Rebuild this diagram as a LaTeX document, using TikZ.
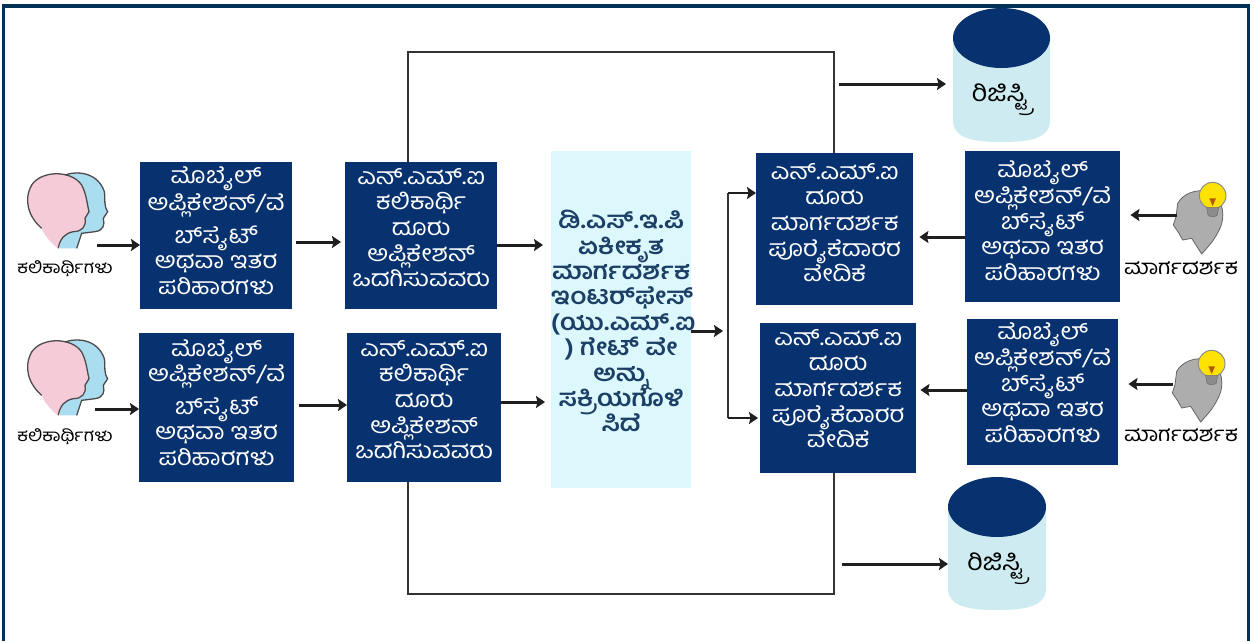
\documentclass[tikz,border=0pt]{standalone}
\usepackage{fontspec}
\usetikzlibrary{arrows.meta,calc}
\newfontfamily\knfont[Script=Kannada,FakeStretch=1.12]{Hind Mysuru}
\definecolor{navy}{HTML}{08326F}
\definecolor{framec}{HTML}{003355}
\definecolor{paleb}{HTML}{DDF8FC}
\definecolor{centert}{HTML}{1C3F66}
\definecolor{cylb}{HTML}{CDEBF1}
\definecolor{linec}{HTML}{333333}
\definecolor{pinkh}{HTML}{F6CBD8}
\definecolor{blueh}{HTML}{ABDDF1}
\tikzset{
  bluebx/.style={rectangle,fill=navy,draw=none,inner sep=0pt,text=white},
  palebx/.style={rectangle,fill=paleb,draw=none,inner sep=0pt,text=centert},
  conn/.style={draw=linec,line width=1.8pt},
  arr/.style={draw=black!88,line width=3pt,-{Stealth[length=9pt,width=12pt,inset=1.5pt]}},
  lab/.style={inner sep=0pt,text=black,font=\knfont\fontsize{17}{20}\selectfont},
  labm/.style={inner sep=0pt,text=black,font=\knfont\fontsize{20.5}{20}\selectfont},
  cyltext/.style={inner sep=0pt,text=black,font=\knfont\fontsize{24}{24}\selectfont},
  headout/.style={draw=black!70,line width=1.3pt},
}
% name, x0, y0, width, height, top skip, lines
\newcommand{\navybox}[7]{%
  \node[bluebx,anchor=north west] (#1) at (#2,#3) {\parbox[c][#5pt][t]{#4pt}{\centering\lineskiplimit=-100pt\vspace*{#6pt}\knfont\fontsize{23}{25.6}\selectfont #7}};}
\newcommand{\learnerhead}[2]{%
  \begin{scope}[shift={(#1,#2)},x=0.3333pt,y=-0.3333pt]
    \fill[blueh] (150,45) .. controls (190,30) and (250,40) .. (268,95) .. controls (272,120) and (265,135) .. (278,155) -- (265,175) .. controls (270,195) and (265,212) .. (240,215) -- (200,220) -- (185,265) -- (135,265) -- cycle;
    \fill[pinkh] (80,205) .. controls (40,170) and (25,120) .. (50,75) .. controls (80,30) and (170,30) .. (200,75) .. controls (215,105) and (215,125) .. (222,155) -- (210,175) .. controls (215,200) and (200,215) .. (175,215) .. controls (150,220) and (135,235) .. (128,265) .. controls (110,250) and (90,230) .. (80,205) -- cycle;
    \draw[headout] (130,265) .. controls (135,235) and (150,220) .. (175,215) .. controls (200,215) and (215,200) .. (210,175) -- (222,155) .. controls (215,125) and (215,105) .. (200,75) .. controls (170,30) and (80,30) .. (50,75) .. controls (25,120) and (40,170) .. (80,205);
    \draw[headout] (150,45) .. controls (190,30) and (250,40) .. (268,95) .. controls (272,120) and (265,135) .. (278,155) -- (265,175) .. controls (270,195) and (265,212) .. (240,215) -- (200,220) -- (185,265);
  \end{scope}}
\newcommand{\mentorhead}[2]{%
  \begin{scope}[shift={(#1,#2)},x=0.3333pt,y=-0.3333pt]
    \fill[fill=black!32,draw=black!60,line width=0.8pt] (203,100) .. controls (220,70) and (260,55) .. (300,65) .. controls (340,90) and (350,140) .. (325,185) .. controls (310,215) and (290,235) .. (275,252) -- (245,205) -- (218,210) -- (207,190) -- (190,165) -- (198,140) -- cycle;
    \fill[yellow!85!orange,draw=black!45,line width=1pt] (308,77) circle[radius=40];
    \fill[black!45,draw=black!55,line width=0.6pt] (290,112) -- (326,112) -- (322,135) .. controls (315,142) and (300,142) .. (294,135) -- cycle;
    \fill[orange!70!black] (298,85) -- (318,85) -- (308,108) -- cycle;
  \end{scope}}
\newcommand{\cylinder}[7]{%
  % name, x0, x1, top, ellipse bottom, bottom, label
  \fill[cylb] (#2,{(#4+#5)/2}) -- (#2,{#6-22}) .. controls (#2,{#6-4}) and ({(#2+#3)/2-30},#6) .. ({(#2+#3)/2},#6) .. controls ({(#2+#3)/2+30},#6) and (#3,{#6-4}) .. (#3,{#6-22}) -- (#3,{(#4+#5)/2}) -- cycle;
  \fill[navy] ({(#2+#3)/2},{(#4+#5)/2}) ellipse[x radius={(#3-#2)/2},y radius={(#5-#4)/2}];
  \node[cyltext] (#1) at ({(#2+#3)/2},{(#5+#6)/2-5}) {#7};}
\begin{document}
\begin{tikzpicture}[x=1pt,y=-1pt]
\useasboundingbox (0,0) rectangle (1255,641);
\fill[white] (0,0) rectangle (1255,641);
\draw[framec,line width=3.2pt] (3.5,641) -- (3.5,6) -- (1248.5,6) -- (1248.5,641);
\coordinate (topL) at (408,52);
\coordinate (topR) at (834,52);
\coordinate (botL) at (408,594);
\coordinate (botR) at (834,594);
% boxes
\navybox{a1}{140}{162}{152}{147}{5}{ಮೊಬೈಲ್\\[1pt]ಅಪ್ಲಿಕೇಶನ್/ವೆ\\[7pt]ಬ್‌ಸೈಟ್\\ಅಥವಾ ಇತರ\\ಪರಿಹಾರಗಳು}
\navybox{a2}{139}{333}{155}{149}{6}{ಮೊಬೈಲ್\\ಅಪ್ಲಿಕೇಶನ್/ವೆ\\[7pt]ಬ್‌ಸೈಟ್\\ಅಥವಾ ಇತರ\\ಪರಿಹಾರಗಳು}
\navybox{b1}{345}{162}{152}{147}{6}{ಎನ್.ಎಮ್.ಐ\\ಕಲಿಕಾರ್ಥಿ\\ದೂರು\\ಅಪ್ಲಿಕೇಶನ್\\ಒದಗಿಸುವವರು}
\navybox{b2}{347}{333}{154}{149}{7}{ಎನ್.ಎಮ್.ಐ\\ಕಲಿಕಾರ್ಥಿ\\ದೂರು\\ಅಪ್ಲಿಕೇಶನ್\\ಒದಗಿಸುವವರು}
\node[palebx,anchor=north west] (hub) at (551,151) {\parbox[c][337pt][t]{140pt}{\centering\lineskiplimit=-100pt\vspace*{59pt}\knfont\bfseries\fontsize{23.5}{25.4}\selectfont ಡಿ.ಎಸ್.ಇ.ಪಿ\\ಏಕೀಕೃತ\\ಮಾರ್ಗದರ್ಶಕ\\ಇಂಟರ್‌ಫೇಸ್\\(ಯು.ಎಮ್.ಐ\\) ಗೇಟ್ ವೇ\\ಅನ್ನು\\ಸಕ್ರಿಯಗೊಳಿ\\ಸಿದೆ}};
\navybox{c1}{756}{153}{157}{152}{10}{ಎನ್.ಎಮ್.ಐ\\ದೂರು\\ಮಾರ್ಗದರ್ಶಕ\\ಪೂರೈಕೆದಾರರ\\ವೇದಿಕೆ}
\navybox{c2}{760}{323}{156}{150}{6}{ಎನ್.ಎಮ್.ಐ\\ದೂರು\\ಮಾರ್ಗದರ್ಶಕ\\ಪೂರೈಕೆದಾರರ\\ವೇದಿಕೆ}
\navybox{d1}{965}{151}{155}{151}{10}{ಮೊಬೈಲ್\\ಅಪ್ಲಿಕೇಶನ್/ವೆ\\ಬ್‌ಸೈಟ್\\ಅಥವಾ ಇತರ\\ಪರಿಹಾರಗಳು}
\navybox{d2}{967}{319}{151}{146}{4}{ಮೊಬೈಲ್\\ಅಪ್ಲಿಕೇಶನ್/ವೆ\\ಬ್‌ಸೈಟ್\\ಅಥವಾ ಇತರ\\ಪರಿಹಾರಗಳು}
% cylinders
\cylinder{reg1}{953}{1050}{8}{68}{142}{ರಿಜಿಸ್ಟ್ರಿ}
\cylinder{reg2}{948}{1046}{477}{537}{610}{ರಿಜಿಸ್ಟ್ರಿ}
% icons
\learnerhead{15}{160}
\learnerhead{15}{327}
\mentorhead{1110}{170}
\mentorhead{1109}{338}
\node[lab] (learn1) at (65,269) {ಕಲಿಕಾರ್ಥಿಗಳು};
\node[lab] (learn2) at (65,437) {ಕಲಿಕಾರ್ಥಿಗಳು};
\node[labm] (ment1) at (1181,268) {ಮಾರ್ಗದರ್ಶಕ};
\node[labm] (ment2) at (1181,435) {ಮಾರ್ಗದರ್ಶಕ};
% loops
\draw[conn] (b1.north -| topL) -- (topL) -- (topR) -- (c1.north -| topR);
\draw[conn] (b2.south -| botL) -- (botL) -- (botR) -- (c2.south -| botR);
% free ends
\coordinate (p1) at (97,245);
\coordinate (p2) at (95,409);
\coordinate (m1) at (1177,215);
\coordinate (m2) at (1173,384);
\coordinate (ab1) at (296,242);
\coordinate (ab2) at (299,405);
\coordinate (r1) at (839,84);
\coordinate (r1e) at (946,84);
\coordinate (r2) at (842,564);
\coordinate (r2e) at (948,564);
\coordinate (busT) at (728,193);
\coordinate (busM) at (728,331);
\coordinate (busB) at (728,418);
\coordinate (bh1) at (497,245);
\coordinate (bh2) at (501,402);
\coordinate (dc1) at (965,237);
\coordinate (dc2) at (967,390);
% arrows
\draw[arr] (p1) -- (a1.west |- p1);
\draw[arr] (p2) -- (a2.west |- p2);
\draw[arr,shorten >=4pt] (ab1) -- (b1.west |- ab1);
\draw[arr] (ab2) -- (b2.west |- ab2);
\draw[arr,shorten >=8pt] (bh1) -- (hub.west |- bh1);
\draw[arr,shorten >=6pt] (bh2) -- (hub.west |- bh2);
\draw[arr,shorten >=5pt] (hub.east |- busM) -- (busM);
\draw[conn] (busT) -- (busB);
\draw[arr,line width=2.4pt] (busT) -- (c1.west |- busT);
\draw[arr,line width=2.4pt,shorten >=2pt] (busB) -- (c2.west |- busB);
\draw[arr,shorten >=6pt] (dc1) -- (c1.east |- dc1);
\draw[arr,shorten >=4pt] (dc2) -- (c2.east |- dc2);
\draw[arr,shorten >=10pt] (m1) -- (d1.east |- m1);
\draw[arr,shorten >=10pt] (m2) -- (d2.east |- m2);
\draw[arr] (r1) -- (r1e);
\draw[arr] (r2) -- (r2e);
\end{tikzpicture}
\end{document}
